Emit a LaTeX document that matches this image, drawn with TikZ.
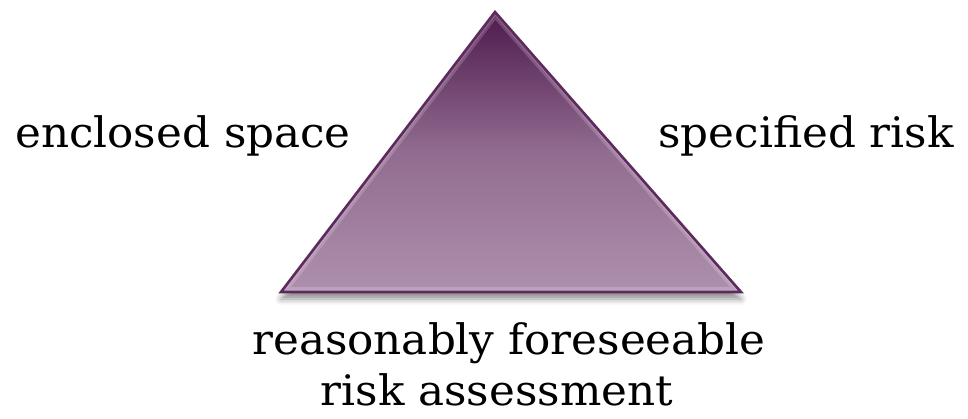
\documentclass[tikz,border=0pt]{standalone}
\usepackage{fontspec}
\setmainfont{DejaVu Serif}
\usetikzlibrary{shadows.blur}
\definecolor{tridark}{HTML}{4E1A4D}
\definecolor{trilight}{HTML}{AE8FAD}
\definecolor{triedge}{HTML}{5E2A5E}
\newcommand{\wideword}[1]{\scalebox{1.04}[1]{#1}}
\tikzset{
  lbl/.style={font=\fontsize{42}{48}\selectfont, text=black, inner sep=0pt, anchor=base},
}
\begin{document}
\begin{tikzpicture}[x=1pt,y=-1pt]
\useasboundingbox (0,0) rectangle (968,418);
\coordinate (apex) at (495,12);
\coordinate (bl) at (281,292);
\coordinate (br) at (741,292);
\fill[black!45, opacity=0.6, blur shadow={shadow xshift=0pt, shadow yshift=-7pt, shadow blur radius=6pt, shadow opacity=45}] (apex) -- (br) -- (bl) -- cycle;
\shade[top color=tridark, bottom color=trilight, middle color=trilight!70!tridark] (apex) -- (br) -- (bl) -- cycle;
\begin{scope}
  \clip (apex) -- (br) -- (bl) -- cycle;
  \draw[white, opacity=0.18, line width=10pt, line join=round] (apex) -- (br) -- (bl) -- cycle;
  \draw[white, opacity=0.15, line width=5pt, line join=round] (apex) -- (br) -- (bl) -- cycle;
\end{scope}
\draw[triedge, line width=2.6pt, line join=miter] (apex) -- (br) -- (bl) -- cycle;
\node[lbl] (encl) at (183,147) {\wideword{enclosed space}};
\node[lbl] (spec) at (806,147) {\wideword{specified risk}};
\node[lbl] (reas) at (509,354) {\wideword{reasonably foreseeable}};
\node[lbl] (risk) at (497,405) {\wideword{risk assessment}};
\end{tikzpicture}
\end{document}
